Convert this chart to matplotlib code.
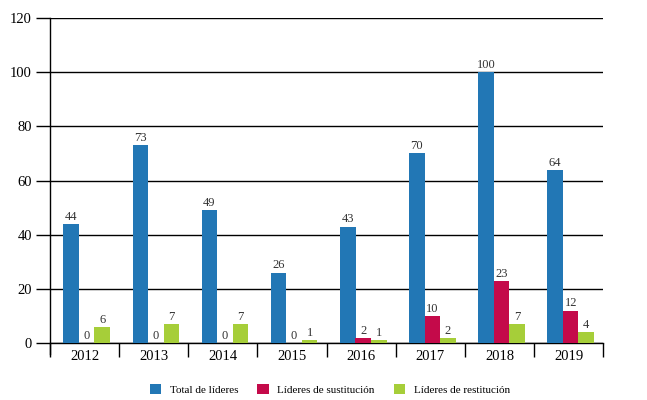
import numpy as np
import matplotlib.pyplot as plt

years = ['2012', '2013', '2014', '2015', '2016', '2017', '2018', '2019']
total = [44, 73, 49, 26, 43, 70, 100, 64]
sustitucion = [0, 0, 0, 0, 2, 10, 23, 12]
restitucion = [6, 7, 7, 1, 1, 2, 7, 4]

plt.rcParams['font.family'] = ['Liberation Serif', 'DejaVu Serif']

fig = plt.figure(figsize=(6.47, 4.0), dpi=100)
ax = fig.add_axes([0.0773, 0.1425, 0.855, 0.8125])

x = np.arange(len(years))
w = 0.225
series = [
    (total, -0.194, '#2277b5', 'Total de líderes'),
    (sustitucion, 0.03, '#c40a4a', 'Líderes de sustitución'),
    (restitucion, 0.254, '#a6ce39', 'Líderes de restitución'),
]
for vals, off, col, lab in series:
    bars = ax.bar(x + off, vals, width=w, color=col, label=lab, zorder=3)
    for b, v in zip(bars, vals):
        ax.text(b.get_x() + b.get_width() / 2, v + 0.4, str(v),
                ha='center', va='bottom', fontsize=9, color='#333333', zorder=4)

ax.set_ylim(0, 120)
ax.set_yticks(range(0, 121, 20))
ax.set_xlim(-0.5, len(years) - 0.5)
ax.yaxis.grid(True, color='black', linewidth=1, zorder=1)

ax.set_xticks(np.arange(len(years) + 1) - 0.5)
ax.set_xticklabels([])
ax.set_xticks(x, minor=True)
ax.set_xticklabels(years, minor=True, fontsize=10.5)
ax.tick_params(axis='x', which='major', length=10, width=1, direction='out', color='black')
ax.tick_params(axis='x', which='minor', length=0, pad=5)
ax.tick_params(axis='y', length=10, width=1, labelsize=10.5, pad=3)

for s in ['top', 'right']:
    ax.spines[s].set_visible(False)
ax.spines['left'].set_linewidth(1)
ax.spines['bottom'].set_linewidth(1)
ax.spines['left'].set_bounds(-4, 120)
ax.spines['left'].set_clip_on(False)

leg = fig.legend(loc='lower center', bbox_to_anchor=(0.51, -0.012), ncol=3, frameon=False,
                 fontsize=8, handlelength=1.0, handleheight=1.0, columnspacing=1.7,
                 handletextpad=0.8)

fig.savefig('out.png', dpi=100)
